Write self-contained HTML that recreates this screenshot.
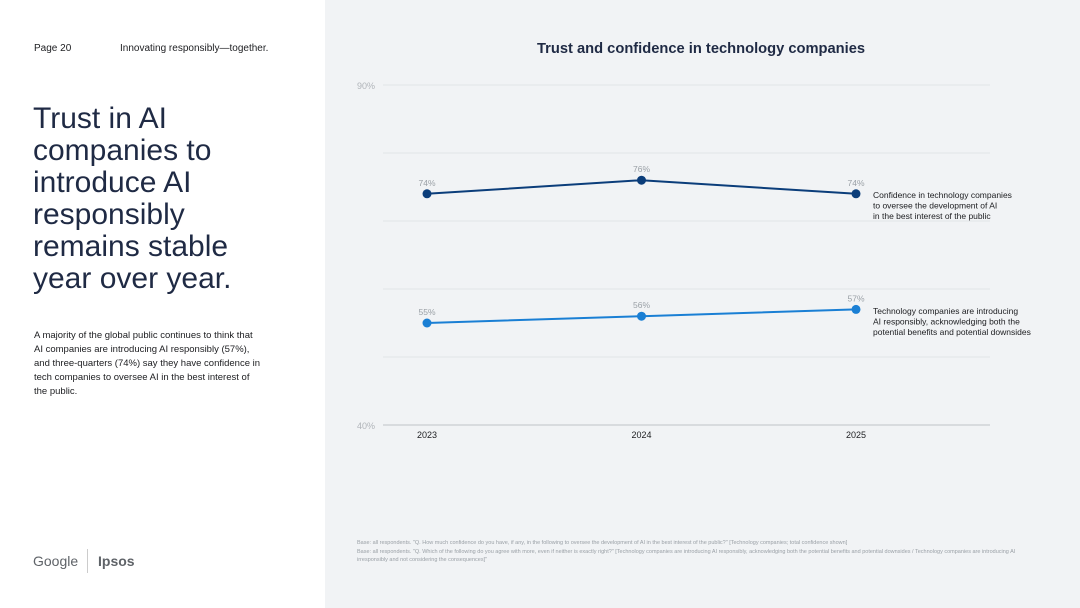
<!DOCTYPE html>
<html><head><meta charset="utf-8"><style>
body{margin:0;width:1080px;height:608px;position:relative;font-family:"Liberation Sans",sans-serif;background:#fff;overflow:hidden}
.abs{position:absolute}
#right{left:325px;top:0;width:755px;height:608px;background:#f1f3f5}
</style></head><body>
<div class="abs" style="left:34px;top:43px;font-size:10px;color:#202124">Page 20</div>
<div class="abs" style="left:120px;top:43px;font-size:10px;color:#202124">Innovating responsibly—together.</div>
<div class="abs" style="left:33px;top:103px;font-size:30px;line-height:32px;color:#1f2a44;width:260px">Trust in AI companies to introduce AI responsibly remains stable year over year.</div>
<div class="abs" style="left:34px;top:329px;font-size:9.5px;line-height:14px;color:#202124;white-space:nowrap">A majority of the global public continues to think that<br>AI companies are introducing AI responsibly (57%),<br>and three-quarters (74%) say they have confidence in<br>tech companies to oversee AI in the best interest of<br>the public.</div>
<div class="abs" style="left:33px;top:553px;font-size:14px;color:#5f6368">Google</div>
<div class="abs" style="left:87px;top:549px;width:1px;height:24px;background:#ccc"></div>
<div class="abs" style="left:98px;top:553px;font-size:14px;font-weight:bold;color:#5f6368">Ipsos</div>
<div id="right" class="abs"></div>
<div class="abs" style="left:537px;top:41px;font-size:14.7px;font-weight:bold;color:#1f2a44">Trust and confidence in technology companies</div>
<svg class="abs" style="left:0;top:0" width="1080" height="608" id="chart"></svg>
<div class="abs" style="left:357px;top:539px;font-size:5.5px;line-height:8.5px;color:#9aa0a6;width:675px">Base: all respondents. "Q. How much confidence do you have, if any, in the following to oversee the development of AI in the best interest of the public?" [Technology companies; total confidence shown]<br>Base: all respondents. "Q. Which of the following do you agree with more, even if neither is exactly right?" [Technology companies are introducing AI responsibly, acknowledging both the potential benefits and potential downsides / Technology companies are introducing AI irresponsibly and not considering the consequences]"</div>
<script>
const years=["2023","2024","2025"];
const confidence=[74,76,74];
const responsible=[55,56,57];
const yTicks=[40,50,60,70,80,90];
const ns="http://www.w3.org/2000/svg";
const svg=document.getElementById('chart');
const x=i=>427+i*214.5;
const y=v=>425-(v-40)*6.8;
function mk(t,a){const e=document.createElementNS(ns,t);for(const k in a)e.setAttribute(k,a[k]);svg.appendChild(e);return e;}
yTicks.forEach(v=>{
 const l=mk('line',{x1:383,x2:990,y1:y(v),y2:y(v),stroke:v===40?'#d0d3d7':'#e1e4e8','stroke-width':v===40?1.5:1});
 
 
 if(v===40||v===90){const t=mk('text',{x:357,y:y(v)+4,'font-size':9,fill:'#b0b4b9','font-family':'Liberation Sans'});t.textContent=v+'%';
 
 }
});
years.forEach((yr,i)=>{const t=mk('text',{x:x(i),y:438,'font-size':9,fill:'#202124','text-anchor':'middle','font-family':'Liberation Sans'});t.textContent=yr;
 
 });
function series(vals,color,name){
 const p=mk('polyline',{points:vals.map((v,i)=>x(i)+','+y(v)).join(' '),fill:'none',stroke:color,'stroke-width':2});
 
 
 vals.forEach((v,i)=>{const c=mk('circle',{cx:x(i),cy:y(v),r:4.5,fill:color});
 
 
 const t=mk('text',{x:x(i),y:y(v)-8,'font-size':8.5,fill:'#9aa0a6','text-anchor':'middle','font-family':'Liberation Sans'});t.textContent=v+'%';
 
 });
}
series(confidence,'#0b3d7a','confidence');
series(responsible,'#1a7fd4','responsible');
function label(lines,yy,name){const t=mk('text',{x:873,y:yy,'font-size':8.5,fill:'#202124','font-family':'Liberation Sans'});
 
 
 lines.forEach((s,i)=>{const ts=document.createElementNS(ns,'tspan');ts.setAttribute('x',873);ts.setAttribute('dy',i?10.5:0);ts.textContent=s;t.appendChild(ts);});}
label(["Confidence in technology companies","to oversee the development of AI","in the best interest of the public"],198,'confidence-series-label');
label(["Technology companies are introducing","AI responsibly, acknowledging both the","potential benefits and potential downsides"],314,'responsible-series-label');
</script>
</body></html>
